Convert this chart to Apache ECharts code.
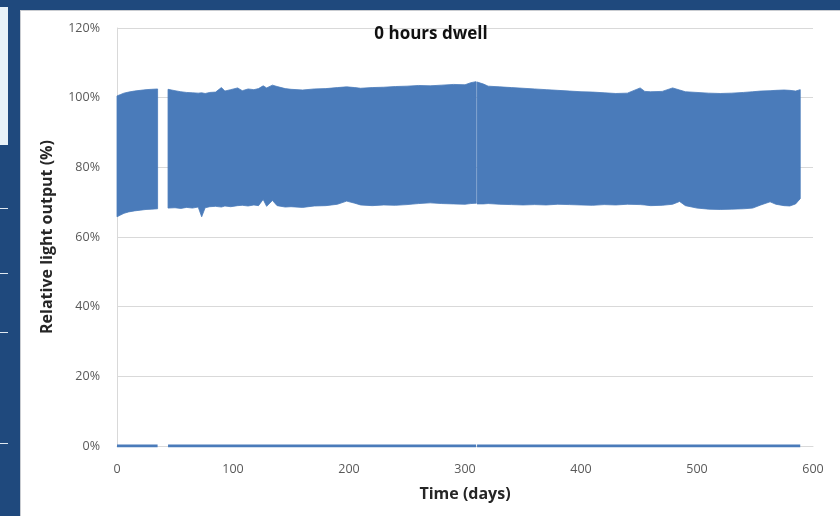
<!DOCTYPE html>
<html>
<head>
<meta charset="utf-8">
<script src="https://cdn.jsdelivr.net/npm/echarts@6/dist/echarts.min.js"></script>
<style>
  html, body { margin: 0; padding: 0; background: #1f497d; }
  #chart { width: 840px; height: 516px; }
</style>
</head>
<body>
<div id="chart"></div>
<script>
// Light output envelope while the lamp is cycling: each sample gives the
// upper and lower limit of the measured output (%), null = no data.
const envDays = [0, 3, 6, 10, 15, 20, 25, 30, 35, 39.5,
  44, 50, 55, 60, 65, 70, 73, 76, 80, 85, 90, 93, 98, 104, 108, 113, 118, 122, 126, 129,
  134, 138, 145, 150, 160, 170, 180, 190, 198, 205, 210, 220, 230, 240, 250, 260, 270,
  280, 290, 300, 305, 309.6, 310, 310.4, 316, 320, 330, 340, 350, 360, 370, 380, 390,
  400, 410, 420, 430, 440, 451, 455, 460, 470, 479, 485, 490, 500, 510, 520, 530, 540,
  548, 555, 563, 568, 575, 580, 585, 589];
const envHigh = [100.5, 100.9, 101.3, 101.6, 101.9, 102.1, 102.3, 102.4, 102.5, null,
  102.4, 102.0, 101.7, 101.5, 101.4, 101.3, 101.4, 101.2, 101.5, 101.6, 102.9, 101.9, 102.3, 102.8, 102.0, 102.5, 102.3, 102.6, 103.4, 102.8,
  103.6, 103.2, 102.6, 102.4, 102.2, 102.5, 102.6, 102.9, 103.1, 102.9, 102.7, 102.9, 103.0, 103.2, 103.3, 103.5, 103.4,
  103.6, 103.8, 103.7, 104.3, 104.6, null, 104.5, 103.9, 103.3, 103.1, 102.9, 102.7, 102.5, 102.3, 102.1, 101.9,
  101.7, 101.6, 101.4, 101.2, 101.3, 102.8, 101.8, 101.7, 101.8, 102.8, 102.2, 101.7, 101.5, 101.3, 101.2, 101.3, 101.5,
  101.7, 101.9, 102.0, 102.1, 102.2, 102.1, 101.9, 102.3];
const envLow = [65.8, 66.3, 66.8, 67.2, 67.5, 67.7, 67.9, 68.0, 68.1, null,
  68.3, 68.4, 68.2, 68.5, 68.3, 68.6, 65.8, 68.4, 68.7, 68.8, 68.6, 68.9, 68.7, 69.0, 69.1, 68.9, 69.2, 69.0, 70.8, 68.8,
  70.5, 69.0, 68.6, 68.7, 68.5, 68.9, 69.0, 69.4, 70.3, 69.7, 69.2, 69.0, 69.2, 69.1, 69.3, 69.6, 69.8,
  69.6, 69.5, 69.4, 69.6, 69.7, null, 69.5, 69.5, 69.6, 69.4, 69.3, 69.2, 69.3, 69.2, 69.4, 69.3,
  69.2, 69.1, 69.3, 69.2, 69.4, 69.3, 69.2, 69.0, 69.1, 69.4, 70.2, 69.0, 68.3, 68.0, 67.9, 68.0, 68.1,
  68.3, 69.2, 70.1, 69.4, 69.0, 68.9, 69.5, 71.0];
// Output in the off state (0 %) at the same sample days
const offLevel = 0;

const chartTitle = '0 hours dwell';
const xName = 'Time (days)';
const yName = 'Relative light output (%)';
const xMin = 0, xMax = 600, xStep = 100;
const yMin = 0, yMax = 120, yStep = 20;

const BLUE = '#4a7bba';
const FONT = '"Open Sans", Lato, sans-serif';

// Split the samples into contiguous measurement runs: [firstDay, lastDay, firstIndex, lastIndex]
const bandRuns = [];
let runStart = -1;
for (let i = 0; i <= envDays.length; i++) {
  const ok = i < envDays.length && envHigh[i] != null && envLow[i] != null;
  if (ok && runStart < 0) runStart = i;
  if (!ok && runStart >= 0) {
    bandRuns.push([envDays[runStart], envDays[i - 1], runStart, i - 1]);
    runStart = -1;
  }
}
const offData = envDays.map((d, i) => [d, envHigh[i] == null ? null : offLevel]);

// Each run is one closed outline: upper limit forward, lower limit back
function renderBand(params, api) {
  const i0 = api.value(2), i1 = api.value(3);
  const pts = [];
  for (let i = i0; i <= i1; i++) pts.push(api.coord([envDays[i], envHigh[i]]));
  for (let i = i1; i >= i0; i--) pts.push(api.coord([envDays[i], envLow[i]]));
  return {
    type: 'polygon',
    shape: { points: pts },
    style: { fill: BLUE, stroke: BLUE, lineWidth: 0.8 }
  };
}

const chart = echarts.init(document.getElementById('chart'), null, { renderer: 'canvas' });

chart.setOption({
  animation: false,
  backgroundColor: '#1f497d',
  textStyle: { fontFamily: FONT },
  graphic: [
    // left strip of the neighbouring panel
    { type: 'rect', shape: { x: 0, y: 7, width: 8, height: 138 }, style: { fill: '#e8f2f8' }, silent: true },
    { type: 'rect', shape: { x: 0, y: 208, width: 8, height: 1 }, style: { fill: '#dfe8f0' }, silent: true },
    { type: 'rect', shape: { x: 0, y: 273, width: 8, height: 1 }, style: { fill: '#dfe8f0' }, silent: true },
    { type: 'rect', shape: { x: 0, y: 332, width: 8, height: 1 }, style: { fill: '#dfe8f0' }, silent: true },
    { type: 'rect', shape: { x: 0, y: 443, width: 8, height: 1 }, style: { fill: '#dfe8f0' }, silent: true },
    // white chart panel with a faint edge
    { type: 'rect', z: -10, shape: { x: 20, y: 10, width: 820, height: 506 }, style: { fill: '#c9ccd1' }, silent: true },
    { type: 'rect', z: -9, shape: { x: 21, y: 11, width: 819, height: 505 }, style: { fill: '#ffffff' }, silent: true },
    {
      type: 'text', x: 431, y: 34, z: 10,
      style: {
        text: chartTitle, align: 'center', verticalAlign: 'middle',
        font: 'bold 17px ' + FONT, fill: '#111111'
      }
    }
  ],
  grid: { left: 117, right: 27, top: 28, bottom: 70, containLabel: false },
  xAxis: {
    type: 'value', min: xMin, max: xMax, interval: xStep,
    name: xName, nameLocation: 'middle', nameGap: 40,
    nameTextStyle: { fontWeight: 'bold', fontSize: 16, color: '#262626', fontFamily: FONT },
    axisLine: { show: true, lineStyle: { color: '#d9d9d9', width: 1 } },
    axisTick: { show: false },
    splitLine: { show: false },
    axisLabel: { color: '#595959', fontSize: 12.5, margin: 17, fontFamily: FONT }
  },
  yAxis: {
    type: 'value', min: yMin, max: yMax, interval: yStep,
    name: yName, nameLocation: 'middle', nameGap: 62, nameRotate: 90,
    nameTextStyle: { fontWeight: 'bold', fontSize: 16, color: '#262626', fontFamily: FONT },
    axisLine: { show: true, lineStyle: { color: '#d9d9d9', width: 1 } },
    axisTick: { show: false },
    splitLine: { show: true, lineStyle: { color: '#d9d9d9', width: 1 } },
    axisLabel: { color: '#595959', fontSize: 12.5, margin: 17, formatter: '{value}%', fontFamily: FONT }
  },
  series: [
    {
      name: 'band', type: 'custom', data: bandRuns, silent: true,
      renderItem: renderBand,
      encode: { x: [0, 1] }
    },
    {
      name: 'off', type: 'line', data: offData,
      showSymbol: false, connectNulls: false, silent: true,
      lineStyle: { width: 3, color: BLUE }
    }
  ]
});
</script>
</body>
</html>
